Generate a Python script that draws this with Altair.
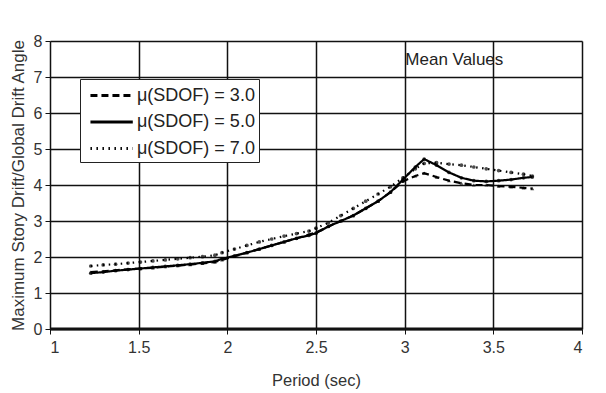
import altair as alt
import pandas as pd

# Structural periods (sec) shared by the three ductility series
period = [1.23, 1.30, 1.37, 1.44, 1.51, 1.58, 1.65, 1.72, 1.79, 1.86, 1.93, 1.97,
          2.04, 2.11, 2.18, 2.25, 2.32, 2.39, 2.46, 2.50, 2.57, 2.64, 2.71, 2.78,
          2.85, 2.92, 2.99, 3.06, 3.11, 3.18, 3.25, 3.32, 3.39, 3.46, 3.53, 3.60,
          3.67, 3.72]

# Mean ratio of maximum story drift to global drift angle
mu3 = [1.58, 1.60, 1.63, 1.66, 1.68, 1.70, 1.73, 1.76, 1.79, 1.82, 1.86, 1.92,
       2.02, 2.12, 2.22, 2.32, 2.42, 2.52, 2.62, 2.68, 2.85, 3.00, 3.15, 3.35,
       3.55, 3.80, 4.10, 4.25, 4.33, 4.22, 4.12, 4.05, 4.00, 4.00, 3.97, 3.95,
       3.92, 3.90]
mu5 = [1.55, 1.58, 1.62, 1.65, 1.68, 1.71, 1.74, 1.77, 1.80, 1.84, 1.88, 1.95,
       2.03, 2.12, 2.22, 2.32, 2.42, 2.52, 2.60, 2.66, 2.85, 3.00, 3.15, 3.35,
       3.55, 3.80, 4.15, 4.50, 4.72, 4.55, 4.35, 4.20, 4.12, 4.10, 4.12, 4.15,
       4.20, 4.22]
mu7 = [1.75, 1.78, 1.80, 1.83, 1.86, 1.89, 1.92, 1.95, 1.98, 2.01, 2.05, 2.12,
       2.22, 2.32, 2.42, 2.50, 2.58, 2.65, 2.72, 2.80, 2.95, 3.15, 3.35, 3.55,
       3.75, 3.95, 4.20, 4.45, 4.60, 4.62, 4.58, 4.55, 4.50, 4.45, 4.40, 4.35,
       4.30, 4.25]

series_names = ["\u03bc(SDOF) = 3.0", "\u03bc(SDOF) = 5.0", "\u03bc(SDOF) = 7.0"]
dashes = [[7, 4], [1, 0], [1.5, 4.5]]
shapes = ["triangle-up", "circle", "circle"]

rows = []
for name, vals in zip(series_names, [mu3, mu5, mu7]):
    for p, v in zip(period, vals):
        rows.append({"period": p, "ratio": v, "series": name})
df = pd.DataFrame(rows)

FONT = "Liberation Sans"

x_axis = alt.Axis(values=[1, 1.5, 2, 2.5, 3, 3.5, 4], format="~g",
                  grid=True, gridColor="#111", gridWidth=1.5, labelOverlap=False,
                  domain=False, tickColor="#111", tickSize=5,
                  labelPadding=5, labelFontSize=16, labelColor="#333",
                  titleFontSize=16.5, titleColor="#333", titlePadding=17,
                  titleFontWeight="normal")
y_axis = alt.Axis(values=[0, 1, 2, 3, 4, 5, 6, 7, 8], grid=True,
                  gridColor="#111", labelOverlap=False,
                  gridWidth=1.5, domain=False, tickColor="#111",
                  tickSize=5, labelPadding=3, labelFontSize=16,
                  labelColor="#333", titleFontSize=17,
                  titleColor="#333", titlePadding=6,
                  titleFontWeight="normal")

x = alt.X("period:Q", title="Period (sec)",
          scale=alt.Scale(domain=[1, 4], nice=False), axis=x_axis)
y = alt.Y("ratio:Q", title="Maximum Story Drift/Global Drift Angle",
          scale=alt.Scale(domain=[0, 8], nice=False), axis=y_axis)

dash_scale = alt.Scale(domain=series_names, range=dashes)

# Legend line glyph: a horizontal stroke longer than the nominal symbol box
legend_glyph = "M-0.55,0L3.3,0"

lines = alt.Chart(df).mark_line(color="black", strokeWidth=2.2).encode(
    x=x, y=y,
    strokeDash=alt.StrokeDash(
        "series:N", scale=dash_scale,
        legend=alt.Legend(title=None, orient="none", legendX=30, legendY=38,
                          fillColor="white", strokeColor="#222",
                          padding=4, rowPadding=4.5, symbolType=legend_glyph,
                          symbolSize=484, symbolStrokeWidth=2.8,
                          symbolStrokeColor="black", labelFontSize=18,
                          labelColor="#222", labelFont=FONT, labelOffset=28)),
)

# One marker layer per series, each with its own fixed glyph
marker_layers = [
    alt.Chart(df).transform_filter(alt.datum.series == name)
    .mark_point(filled=True, color="black", size=14, shape=shp)
    .encode(x=x, y=y)
    for name, shp in zip(series_names, shapes)
]

baseline = alt.Chart(pd.DataFrame({"ratio": [0]})).mark_rule(
    color="#111", strokeWidth=3).encode(y=y)

note = alt.Chart(pd.DataFrame({"period": [3.28], "ratio": [7.47],
                               "label": ["Mean Values"]})).mark_text(
    font=FONT, fontSize=17, color="#222").encode(
    x=x, y=y, text="label:N")

chart = alt.layer(lines, *marker_layers, baseline, note).properties(
    width=532, height=288,
    autosize=alt.AutoSizeParams(type="none"),
    padding={"left": 50, "top": 41, "right": 24, "bottom": 64},
).configure_view(stroke="#222", strokeWidth=1.5).configure(
    font=FONT, background="white")

chart.save("out.html", embed_options={"renderer": "svg", "actions": False})
